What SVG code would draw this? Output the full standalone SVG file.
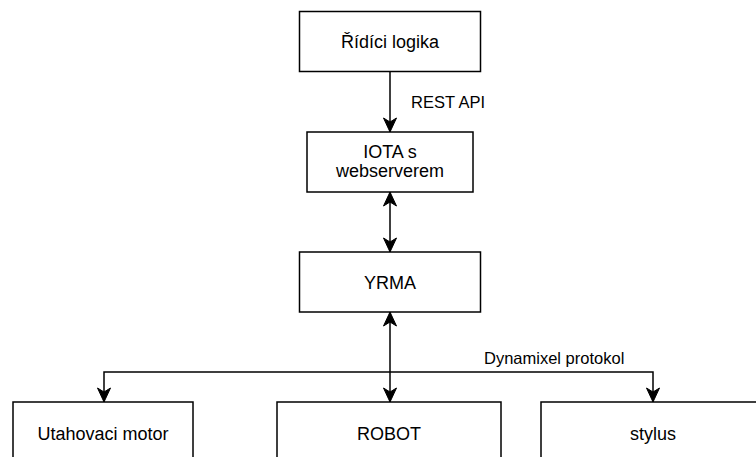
<svg xmlns="http://www.w3.org/2000/svg" width="756" height="457" viewBox="0 0 756 457">
<defs>
<style>
.box{fill:#ffffff;stroke:#000000;stroke-width:1.5}
.t{font-family:"Liberation Sans",Arial,Helvetica,sans-serif;font-size:18px;fill:#000000;text-anchor:middle}
.lbl{font-family:"Liberation Sans",Arial,Helvetica,sans-serif;font-size:16.5px;fill:#000000}
.edge{fill:none;stroke:#000000;stroke-width:1.5}
</style>
<marker id="arr" markerUnits="userSpaceOnUse" markerWidth="16" markerHeight="16" viewBox="-15 -8 16 16" refX="0" refY="0" orient="auto-start-reverse" overflow="visible">
<path d="M0,0 L-14,-6.5 L-10,0 L-14,6.5 Z" fill="#000000" stroke="#000000" stroke-width="1"/>
</marker>
</defs>
<rect width="756" height="457" fill="#ffffff"/>
<g id="connectors">
<path class="edge" d="M390,71 V132" marker-end="url(#arr)"/>
<path class="edge" d="M390,192 V252" marker-start="url(#arr)" marker-end="url(#arr)"/>
<path class="edge" d="M390,312 V402" stroke-width="2" marker-start="url(#arr)" marker-end="url(#arr)"/>
<path class="edge" d="M390,372 H104 V402" marker-end="url(#arr)"/>
<path class="edge" d="M390,372 H653 V402" marker-end="url(#arr)"/>
<text class="lbl" x="411" y="108">REST API</text>
<text class="lbl" x="484" y="364">Dynamixel protokol</text>
</g>
<g id="ridici-logika">
<rect class="box" x="299.5" y="11.5" width="181" height="60"/>
<text class="t" x="390" y="48">Řídíci logika</text>
</g>
<g id="iota">
<rect class="box" x="307" y="132" width="166" height="60"/>
<text class="t" x="390" y="158">IOTA s</text>
<text class="t" x="390" y="177">webserverem</text>
</g>
<g id="yrma">
<rect class="box" x="299.5" y="252" width="181" height="60"/>
<text class="t" x="390" y="289">YRMA</text>
</g>
<g id="utahovaci-motor">
<rect class="box" x="13" y="402" width="180" height="60"/>
<text class="t" x="103" y="440">Utahovaci motor</text>
</g>
<g id="robot">
<rect class="box" x="277" y="402" width="224" height="60"/>
<text class="t" x="389" y="440">ROBOT</text>
</g>
<g id="stylus">
<rect class="box" x="541" y="402" width="224" height="60"/>
<text class="t" x="653" y="440">stylus</text>
</g>
</svg>
